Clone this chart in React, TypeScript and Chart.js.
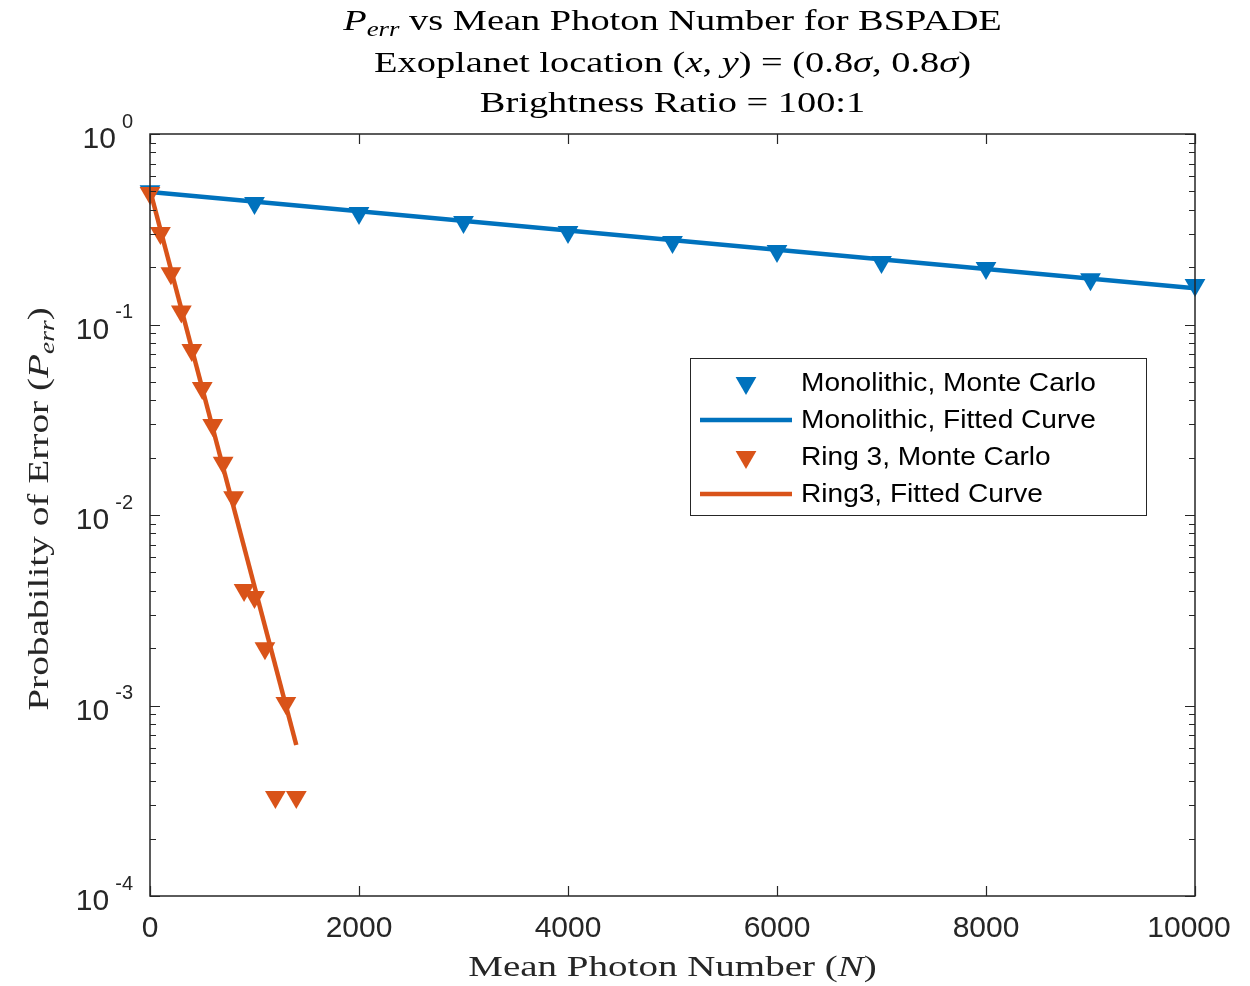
import React, { useEffect, useRef } from "react";
import { Chart, registerables } from "chart.js";

Chart.register(...registerables);

// ---------- data ----------
const monoN = [0, 1000, 2000, 3000, 4000, 5000, 6000, 7000, 8000, 9000, 10000];
const monoMC = [0.5, 0.434, 0.385, 0.345, 0.306, 0.271, 0.243, 0.213, 0.198, 0.173, 0.161];
const monoFitN = [0, 10000];
const monoFit = [0.496, 0.155];
const ringN = [0, 100, 200, 300, 400, 500, 600, 700, 800, 900, 1000, 1100, 1200, 1300, 1400];
const ringMC = [0.49, 0.302, 0.186, 0.117, 0.0735, 0.0464, 0.0297, 0.0188, 0.0124, 0.00404, 0.00371, 0.002, 0.000331, 0.00103, 0.000331];
const ringFitN = [0, 1400];
const ringFit = [0.508, 0.00062];
const xTicks = [0, 2000, 4000, 6000, 8000, 10000];
const yDecades = [0, -1, -2, -3, -4];
const legendLabels = [
  "Monolithic, Monte Carlo",
  "Monolithic, Fitted Curve",
  "Ring 3, Monte Carlo",
  "Ring3, Fitted Curve",
];

const BLUE = "#0072BD";
const RED = "#D95319";
const SANS = "'Liberation Sans', Arial, Helvetica, sans-serif";
const SERIF = "'Liberation Serif', 'Times New Roman', serif";

type Seg = { t: string; it?: boolean; sub?: boolean };

function segFont(s: Seg, size: number) {
  const sz = s.sub ? Math.round(size * 0.7) : size;
  return `${s.it ? "italic " : ""}${sz}px ${SERIF}`;
}

function drawRich(ctx: CanvasRenderingContext2D, segs: Seg[], cx: number, cy: number, size: number, hs: number) {
  let total = 0;
  const widths = segs.map((s) => {
    ctx.font = segFont(s, size);
    const w = ctx.measureText(s.t).width;
    total += w;
    return w;
  });
  ctx.save();
  ctx.translate(cx, cy);
  ctx.scale(hs, 1);
  let x = -total / 2;
  ctx.textBaseline = "middle";
  ctx.textAlign = "left";
  segs.forEach((s, i) => {
    ctx.font = segFont(s, size);
    ctx.fillText(s.t, x, s.sub ? size * 0.28 : 0);
    x += widths[i];
  });
  ctx.restore();
}

function toPts(xs: number[], ys: number[]) {
  return xs.map((x, i) => ({ x, y: ys[i] }));
}

const decorPlugin = {
  id: "decor",
  afterDraw(chart: any) {
    const ctx: CanvasRenderingContext2D = chart.ctx;
    const { left, right, top, bottom } = chart.chartArea;
    const xs = chart.scales.x;
    const ys = chart.scales.y;
    ctx.save();
    // box
    ctx.strokeStyle = "#262626";
    ctx.lineWidth = 1.5;
    ctx.strokeRect(left, top, right - left, bottom - top);
    // x ticks
    ctx.lineWidth = 1.2;
    ctx.beginPath();
    xTicks.forEach((v) => {
      const px = Math.round(xs.getPixelForValue(v)) + 0.5;
      ctx.moveTo(px, bottom);
      ctx.lineTo(px, bottom - 10);
      ctx.moveTo(px, top);
      ctx.lineTo(px, top + 10);
    });
    // y ticks (major at decades, minor at 2..9)
    yDecades.forEach((d) => {
      for (let m = 1; m <= 9; m++) {
        if (d === -4 && m > 1) break;
        const v = m * Math.pow(10, d - (m > 1 ? 1 : 0));
        const py = Math.round(ys.getPixelForValue(v)) + 0.5;
        const len = m === 1 ? 10 : 6;
        ctx.moveTo(left, py);
        ctx.lineTo(left + len, py);
        ctx.moveTo(right, py);
        ctx.lineTo(right - len, py);
      }
    });
    ctx.stroke();

    // x tick labels
    ctx.fillStyle = "#262626";
    ctx.font = `30px ${SANS}`;
    ctx.textAlign = "center";
    ctx.textBaseline = "middle";
    xTicks.forEach((v, i) => {
      const px = xs.getPixelForValue(v) - (i === xTicks.length - 1 ? 6 : 0);
      ctx.fillText(String(v), px, 929);
    });
    // y tick labels 10^d
    yDecades.forEach((d) => {
      const py = ys.getPixelForValue(Math.pow(10, d));
      ctx.font = `20px ${SANS}`;
      ctx.textAlign = "right";
      ctx.textBaseline = "middle";
      const ex = d === 0 ? "0" : "-" + String(-d);
      ctx.fillText(ex, 133, py - 12);
      const ew = ctx.measureText(ex).width;
      ctx.font = `30px ${SANS}`;
      ctx.fillText("10", 133 - ew - 6, py + 6);
    });

    // titles
    ctx.fillStyle = "#000";
    const cx = (left + right) / 2;
    const HS = 1.28;
    drawRich(ctx, [{ t: "P", it: true }, { t: "err", it: true, sub: true }, { t: " vs Mean Photon Number for BSPADE" }], cx, 22, 30, HS);
    drawRich(ctx, [
      { t: "Exoplanet location (" },
      { t: "x", it: true },
      { t: ", " },
      { t: "y", it: true },
      { t: ") = (0.8" },
      { t: "σ", it: true },
      { t: ", 0.8" },
      { t: "σ", it: true },
      { t: ")" },
    ], cx, 64, 30, HS);
    drawRich(ctx, [{ t: "Brightness Ratio = 100:1" }], cx, 104, 30, HS);
    // x axis label
    ctx.fillStyle = "#262626";
    drawRich(ctx, [{ t: "Mean Photon Number (" }, { t: "N", it: true }, { t: ")" }], cx, 968, 30, 1.3);
    // y axis label
    ctx.save();
    ctx.translate(40, (top + bottom) / 2 - 6);
    ctx.rotate(-Math.PI / 2);
    drawRich(ctx, [{ t: "Probability of Error (" }, { t: "P", it: true }, { t: "err", it: true, sub: true }, { t: ")" }], 0, 0, 30, 1.31);
    ctx.restore();

    // legend
    const lx = 690, ly = 358, lw = 456, lh = 157;
    ctx.fillStyle = "#fff";
    ctx.fillRect(lx, ly, lw, lh);
    ctx.strokeStyle = "#262626";
    ctx.lineWidth = 1;
    ctx.strokeRect(lx + 0.5, ly + 0.5, lw, lh);
    const rows = [383, 420, 457, 494];
    const cols = [BLUE, BLUE, RED, RED];
    rows.forEach((ry, i) => {
      const col = cols[i];
      if (i % 2 === 0) {
        const r = 12;
        const mx = 746, my = ry;
        ctx.fillStyle = col;
        ctx.beginPath();
        ctx.moveTo(mx - r * 0.866, my - r * 0.5);
        ctx.lineTo(mx + r * 0.866, my - r * 0.5);
        ctx.lineTo(mx, my + r);
        ctx.closePath();
        ctx.fill();
      } else {
        ctx.strokeStyle = col;
        ctx.lineWidth = 4.5;
        ctx.beginPath();
        ctx.moveTo(700, ry);
        ctx.lineTo(792, ry);
        ctx.stroke();
      }
      ctx.fillStyle = "#000";
      ctx.save();
      ctx.translate(801, ry + 1);
      ctx.scale(1.08, 1);
      ctx.font = `26px ${SANS}`;
      ctx.textAlign = "left";
      ctx.textBaseline = "middle";
      ctx.fillText(legendLabels[i], 0, 0);
      ctx.restore();
    });
    ctx.restore();
  },
};

export default function App() {
  const ref = useRef<HTMLCanvasElement>(null);
  useEffect(() => {
    document.body.style.margin = "0";
    const chart = new Chart(ref.current!, {
      type: "scatter",
      data: {
        datasets: [
          {
            label: legendLabels[0],
            data: toPts(monoN, monoMC),
            showLine: false,
            pointStyle: "triangle",
            rotation: 180,
            pointRadius: 12,
            pointBorderWidth: 0,
            backgroundColor: BLUE,
            borderColor: BLUE,
            clip: false,
            order: 4,
          },
          {
            label: legendLabels[1],
            data: toPts(monoFitN, monoFit),
            showLine: true,
            pointRadius: 0,
            borderWidth: 4.5,
            borderColor: BLUE,
            backgroundColor: BLUE,
            order: 3,
          },
          {
            label: legendLabels[2],
            data: toPts(ringN, ringMC),
            showLine: false,
            pointStyle: "triangle",
            rotation: 180,
            pointRadius: 12,
            pointBorderWidth: 0,
            backgroundColor: RED,
            borderColor: RED,
            clip: false,
            order: 2,
          },
          {
            label: legendLabels[3],
            data: toPts(ringFitN, ringFit),
            showLine: true,
            pointRadius: 0,
            borderWidth: 4.5,
            borderColor: RED,
            backgroundColor: RED,
            order: 1,
          },
        ],
      },
      options: {
        animation: false,
        responsive: false,
        devicePixelRatio: 1,
        layout: { padding: { left: 150, right: 55, top: 134, bottom: 90 } },
        plugins: { legend: { display: false }, tooltip: { enabled: false } },
        scales: {
          x: { type: "linear", min: 0, max: 10000, display: false },
          y: { type: "logarithmic", min: 1e-4, max: 1, display: false },
        },
      },
      plugins: [decorPlugin],
    });
    return () => chart.destroy();
  }, []);
  return (
    <div style={{ width: 1250, height: 986, background: "#fff" }}>
      <canvas ref={ref} width={1250} height={986} />
    </div>
  );
}
